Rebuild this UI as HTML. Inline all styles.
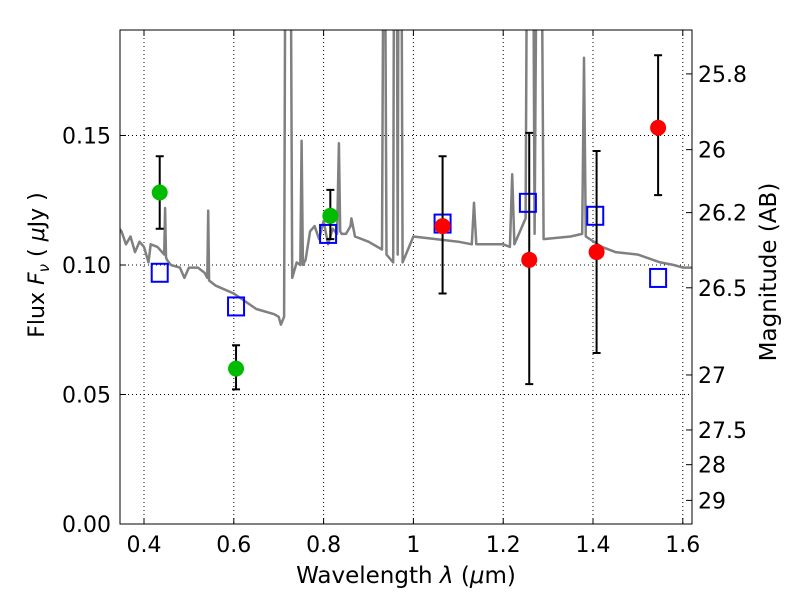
<!DOCTYPE html>
<html><head><meta charset="utf-8"><style>
body{margin:0;background:#fff;}
svg{display:block;font-family:"DejaVu Sans","Liberation Sans",sans-serif;}
</style></head><body>
<svg id="chart" width="800" height="600">
<defs><clipPath id="clip"><rect x="120" y="30" width="572" height="494"/></clipPath></defs>
<rect x="0" y="0" width="800" height="600" fill="#fff"/>
<g id="grid"></g>
<g id="spec" clip-path="url(#clip)"></g>
<g id="marks" clip-path="url(#clip)"></g>
<rect x="120" y="30" width="572" height="494" fill="none" stroke="#000" stroke-width="1"/>
<g id="axes"></g>
<text x="406" y="583" text-anchor="middle" font-size="23">Wavelength  <tspan font-style="italic">λ</tspan> (<tspan font-style="italic">μ</tspan>m)</text>
<text transform="translate(44,265) rotate(-90)" text-anchor="middle" font-size="22">Flux  <tspan font-style="italic">F</tspan><tspan font-style="italic" font-size="15" dy="5">ν</tspan><tspan dy="-5">  ( </tspan><tspan font-style="italic">μ</tspan>Jy )</text>
<text transform="translate(776,272) rotate(-90)" text-anchor="middle" font-size="23">Magnitude (AB)</text>
</svg>
<script>
const specWave=[0.34,0.35,0.36,0.37,0.38,0.39,0.40,0.41,0.415,0.43,0.44,0.445,0.447,0.449,0.451,0.46,0.48,0.49,0.5,0.52,0.535,0.541,0.543,0.545,0.56,0.6,0.65,0.69,0.70,0.705,0.712,0.716,0.72,0.725,0.73,0.74,0.748,0.751,0.754,0.76,0.77,0.78,0.79,0.80,0.81,0.82,0.83,0.834,0.837,0.84,0.85,0.86,0.862,0.87,0.9,0.93,0.935,0.94,0.955,0.958,0.962,0.965,0.968,0.972,0.976,1.0,1.05,1.1,1.13,1.135,1.14,1.2,1.215,1.22,1.225,1.25,1.255,1.265,1.27,1.277,1.283,1.29,1.35,1.376,1.38,1.384,1.42,1.45,1.5,1.55,1.58,1.6,1.63];
const specFlux=[0.115,0.113,0.108,0.111,0.105,0.109,0.107,0.101,0.108,0.107,0.105,0.104,0.122,0.103,0.102,0.100,0.099,0.095,0.099,0.099,0.097,0.095,0.121,0.094,0.092,0.089,0.083,0.081,0.080,0.077,0.080,0.30,0.30,0.30,0.095,0.101,0.100,0.148,0.100,0.102,0.113,0.115,0.110,0.117,0.108,0.114,0.112,0.147,0.113,0.112,0.112,0.115,0.118,0.111,0.109,0.106,0.30,0.104,0.101,0.30,0.30,0.104,0.30,0.30,0.101,0.111,0.110,0.109,0.108,0.124,0.108,0.108,0.107,0.135,0.108,0.118,0.30,0.30,0.112,0.30,0.30,0.110,0.111,0.112,0.180,0.111,0.107,0.105,0.104,0.101,0.100,0.099,0.099];
const greenWave=[0.435,0.605,0.815];
const greenFlux=[0.128,0.060,0.119];
const greenLo=[0.114,0.052,0.110];
const greenHi=[0.142,0.069,0.129];
const redWave=[1.065,1.258,1.408,1.545];
const redFlux=[0.115,0.102,0.105,0.153];
const redLo=[0.089,0.054,0.066,0.127];
const redHi=[0.142,0.151,0.144,0.181];
const modelWave=[0.435,0.605,0.81,1.065,1.255,1.405,1.545];
const modelFlux=[0.097,0.084,0.112,0.116,0.124,0.119,0.095];
const xTicks=[0.4,0.6,0.8,1.0,1.2,1.4,1.6];
const xTickLabels=["0.4","0.6","0.8","1","1.2","1.4","1.6"];
const yTicks=[0,0.05,0.10,0.15];
const yTickLabels=["0.00","0.05","0.10","0.15"];
const magTicks=[25.8,26,26.2,26.5,27,27.5,28,29];
const magTickLabels=["25.8","26","26.2","26.5","27","27.5","28","29"];

const X=v=>144+(v-0.4)*449;
const Y=v=>524-v*2590;
const NS="http://www.w3.org/2000/svg";
function mk(tag,parent,attrs){const e=document.createElementNS(NS,tag);for(const k in attrs)e.setAttribute(k,attrs[k]);parent.appendChild(e);return e;}
const grid=document.getElementById('grid'),axes=document.getElementById('axes'),spec=document.getElementById('spec'),marks=document.getElementById('marks');

xTicks.forEach((t,i)=>{const x=X(t);
 const g=mk('line',grid,{x1:x,x2:x,y1:30,y2:524,stroke:'#000','stroke-dasharray':'1,3','stroke-width':1});
 
 mk('line',axes,{x1:x,x2:x,y1:524,y2:518,stroke:'#000'});
 mk('line',axes,{x1:x,x2:x,y1:30,y2:36,stroke:'#000'});
 const tx=mk('text',axes,{x:x,y:552,'text-anchor':'middle','font-size':22});tx.textContent=xTickLabels[i];
 
});
yTicks.forEach((t,i)=>{const y=Y(t);
 if(t>0){const g=mk('line',grid,{x1:120,x2:692,y1:y,y2:y,stroke:'#000','stroke-dasharray':'1,3','stroke-width':1});
 }
 mk('line',axes,{x1:120,x2:126,y1:y,y2:y,stroke:'#000'});
 const tx=mk('text',axes,{x:111,y:y+8,'text-anchor':'end','font-size':22});tx.textContent=yTickLabels[i];
 
});
magTicks.forEach((m,i)=>{const f=Math.pow(10,(23.9-m)/2.5);const y=Y(f);
 mk('line',axes,{x1:686,x2:692,y1:y,y2:y,stroke:'#000'});
 const tx=mk('text',axes,{x:698,y:y+8,'font-size':22});tx.textContent=magTickLabels[i];
 
});
const pts=specWave.map((w,i)=>X(w).toFixed(1)+','+Y(specFlux[i]).toFixed(1)).join(' ');
const pl=mk('polyline',spec,{points:pts,fill:'none',stroke:'#808080','stroke-width':2.5,'stroke-linejoin':'round'});


modelWave.forEach((w,i)=>{const r=mk('rect',marks,{x:X(w)-8,y:Y(modelFlux[i])-9,width:16,height:18,fill:'none',stroke:'#0000ff','stroke-width':2});
 });
function pts2(wave,flux,lo,hi,color,name){wave.forEach((w,i)=>{const x=X(w);
 const e=mk('path',marks,{d:`M${x},${Y(lo[i])}V${Y(hi[i])}M${x-4},${Y(lo[i])}h8M${x-4},${Y(hi[i])}h8`,stroke:'#000','stroke-width':2,fill:'none'});
 
 const c=mk('circle',marks,{cx:x,cy:Y(flux[i]),r:8,fill:color});
 });}
pts2(greenWave,greenFlux,greenLo,greenHi,'#00bb00','green-observed-point');
pts2(redWave,redFlux,redLo,redHi,'#ff0000','red-observed-point');
</script>
</body></html>
